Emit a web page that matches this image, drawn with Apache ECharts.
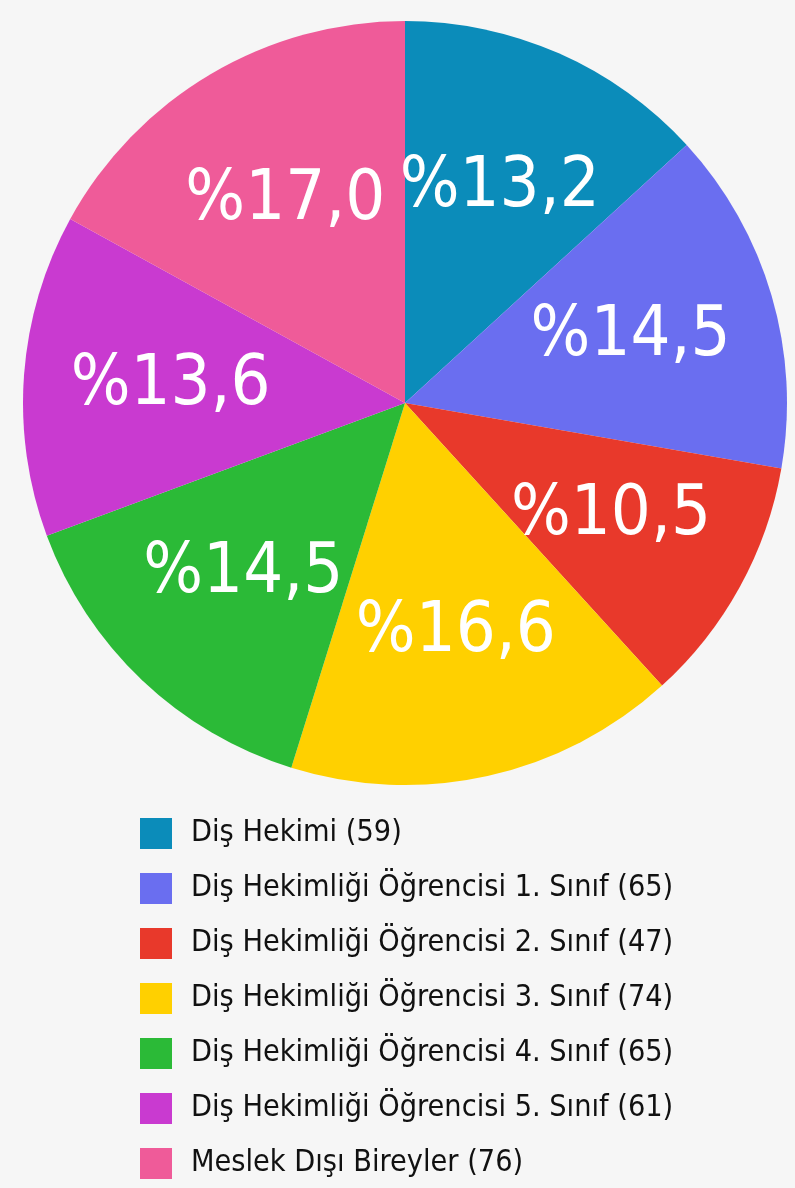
<!DOCTYPE html>
<html>
<head>
<meta charset="utf-8">
<script src="https://cdn.jsdelivr.net/npm/echarts@6/dist/echarts.min.js"></script>
<style>
  html, body { margin: 0; padding: 0; background: #f6f6f6; }
  #chart { width: 795px; height: 1188px; }
</style>
</head>
<body>
<div id="chart"></div>
<script>
// kategoriler ve değerler
const categories = [
  'Diş Hekimi',
  'Diş Hekimliği Öğrencisi 1. Sınıf',
  'Diş Hekimliği Öğrencisi 2. Sınıf',
  'Diş Hekimliği Öğrencisi 3. Sınıf',
  'Diş Hekimliği Öğrencisi 4. Sınıf',
  'Diş Hekimliği Öğrencisi 5. Sınıf',
  'Meslek Dışı Bireyler'
]
const counts = [59, 65, 47, 74, 65, 61, 76]
const colors = ['#0b8cba', '#6a6ef0', '#e8392b', '#ffd000', '#2bba37', '#c93ad0', '#ef5b99']

const total = counts.reduce((a, b) => a + b, 0)
const fmtPct = v => '%' + (v / total * 100).toFixed(1).replace('.', ',')

const legendNames = categories.map((c, i) => c + ' (' + counts[i] + ')')
const pieData = legendNames.map((n, i) => ({ name: n, value: counts[i], itemStyle: { color: colors[i] } }))

const chart = echarts.init(document.getElementById('chart'))
chart.setOption({
  backgroundColor: '#f6f6f6',
  animation: false,
  legend: {
    orient: 'vertical',
    left: 140,
    top: 818,
    height: 370,
    padding: 0,
    icon: 'rect',
    itemWidth: 32,
    itemHeight: 31,
    itemGap: 24,
    data: legendNames,
    textStyle: {
      fontFamily: 'DejaVu Sans Condensed',
      fontSize: 30.3,
      lineHeight: 31,
      color: '#111',
      padding: [0, 0, 0, 14]
    }
  },
  series: [
    {
      type: 'pie',
      center: [405, 403],
      radius: [0, 382],
      startAngle: 90,
      clockwise: true,
      label: { show: false },
      labelLine: { show: false },
      emphasis: { disabled: true },
      data: pieData
    },
    {
      // sadece etiketler için görünmez halka
      type: 'pie',
      center: [405, 403],
      radius: [164, 300],
      startAngle: 90,
      clockwise: true,
      silent: true,
      legendHoverLink: false,
      itemStyle: { color: 'transparent' },
      label: {
        show: true,
        position: 'inside',
        fontFamily: 'DejaVu Sans Condensed',
        fontSize: 70,
        color: '#fff',
        formatter: p => fmtPct(p.value)
      },
      labelLine: { show: false },
      data: pieData.map(d => ({ name: d.name, value: d.value, itemStyle: { color: 'transparent' } }))
    }
  ]
})
</script>
</body>
</html>
